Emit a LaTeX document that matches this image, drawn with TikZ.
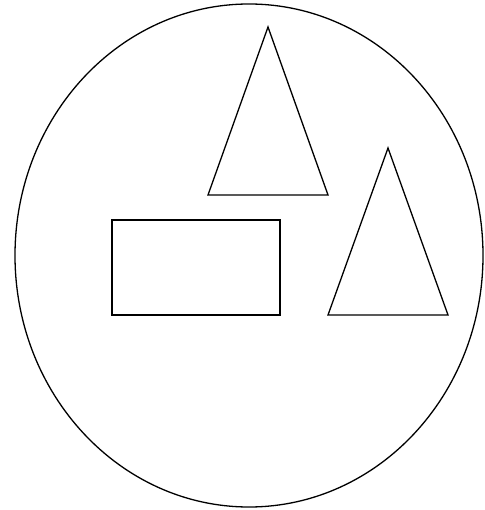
\documentclass[tikz,border=0pt]{standalone}
\begin{document}
\begin{tikzpicture}[x=1pt,y=-1pt,outline/.style={draw=black,line width=1.3pt,line join=miter}]
\useasboundingbox (0,0) rectangle (484,510);
\draw[outline] (249,255.5) ellipse [x radius=234, y radius=251.5];
\draw[outline] (268,27) -- (328,195) -- (208,195) -- cycle;
\draw[outline] (388,148) -- (448,315) -- (328,315) -- cycle;
\draw[outline] (112,220) rectangle (280,315);
\end{tikzpicture}
\end{document}
